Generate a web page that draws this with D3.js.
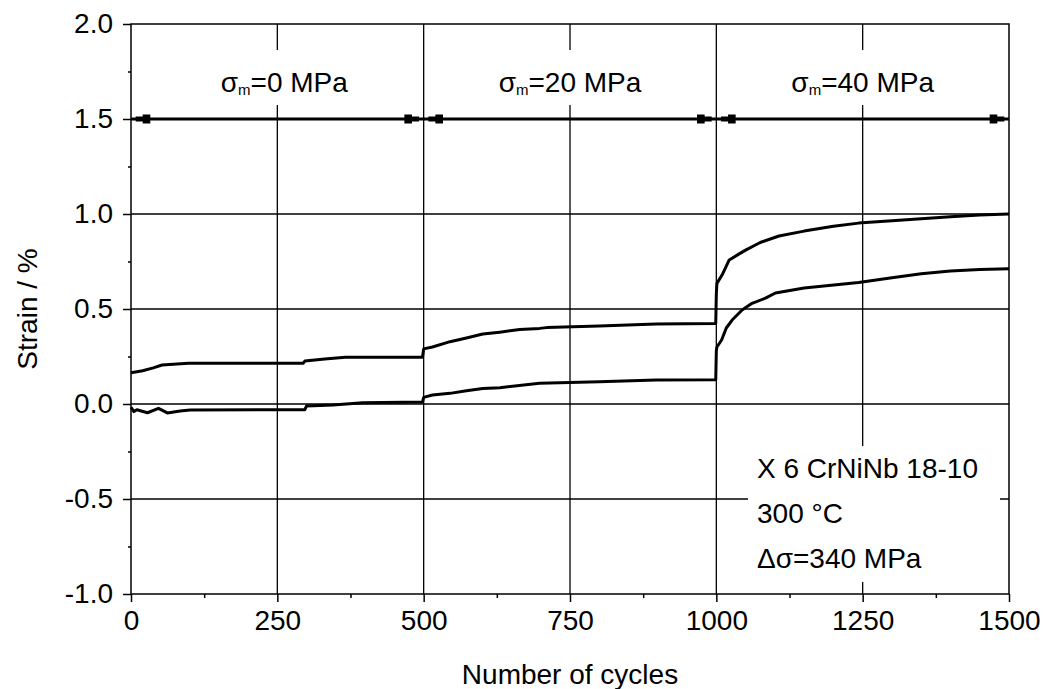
<!DOCTYPE html>
<html>
<head>
<meta charset="utf-8">
<script src="https://cdn.jsdelivr.net/npm/d3@7"></script>
<style>
  body { margin: 0; background: #fff; }
  text { font-family: "Liberation Sans", Arial, sans-serif; fill: #000; }
</style>
</head>
<body>
<div id="chart"></div>
<script>
// Data
const xTicks = [0, 250, 500, 750, 1000, 1250, 1500];
const xMinor = [125, 375, 625, 875, 1125, 1375];
const yTicks = [-1.0, -0.5, 0.0, 0.5, 1.0, 1.5, 2.0];
const yMinor = [-0.75, -0.25, 0.25, 0.75, 1.25, 1.75];

const upperCycles = [0, 10, 20, 38, 53, 98, 294, 297, 331, 366, 498,
  500, 515, 545, 573, 601, 630, 664, 698, 710, 800, 897, 999,
  1000, 1001, 1010, 1022, 1039, 1050, 1075, 1107, 1150, 1200, 1243, 1300, 1400, 1450, 1500];
const upperStrain = [0.165, 0.17, 0.175, 0.19, 0.205, 0.214, 0.214, 0.226, 0.237, 0.246, 0.246,
  0.29, 0.30, 0.328, 0.347, 0.368, 0.378, 0.392, 0.398, 0.402, 0.41, 0.421, 0.424,
  0.58, 0.635, 0.68, 0.758, 0.79, 0.81, 0.85, 0.884, 0.91, 0.935, 0.952, 0.965, 0.985, 0.995, 1.0];

const lowerCycles = [0, 5, 10, 28, 47, 62, 84, 101, 297, 300, 345, 396, 498,
  500, 515, 545, 573, 601, 630, 698, 800, 897, 999,
  1000, 1001, 1009, 1017, 1027, 1044, 1061, 1084, 1101, 1150, 1243, 1300, 1350, 1400, 1450, 1500];
const lowerStrain = [-0.017, -0.04, -0.03, -0.046, -0.023, -0.047, -0.037, -0.032, -0.03, -0.01, -0.005, 0.007, 0.01,
  0.035, 0.047, 0.056, 0.07, 0.082, 0.086, 0.109, 0.117, 0.126, 0.128,
  0.28, 0.30, 0.337, 0.40, 0.442, 0.495, 0.53, 0.557, 0.584, 0.61, 0.64, 0.665, 0.685, 0.70, 0.708, 0.712];

// Load ranges (double arrows at strain 1.5)
const segStart = [0, 500, 1000];
const segEnd = [500, 1000, 1500];
const segLabel = ["0 MPa", "20 MPa", "40 MPa"];
const segLabelX = [262, 750, 1250];
const arrowY = 1.5;

const infoLines = ["X 6 CrNiNb 18-10", "300 \u00B0C", "\u0394\u03C3=340 MPa"];

// Setup SVG
const W = 1045, H = 689;
const svg = d3.select("#chart").append("svg")
  .attr("width", W).attr("height", H);

const x = d3.scaleLinear().domain([0, 1500]).range([131, 1009]);
const y = d3.scaleLinear().domain([-1, 2]).range([594, 24]);

// Grid lines
svg.append("g")
  .selectAll("line")
  .data(xTicks.slice(1, -1))
  .enter().append("line")
  .attr("x1", d => x(d)).attr("x2", d => x(d))
  .attr("y1", y(2)).attr("y2", y(-1))
  .attr("stroke", "#000").attr("stroke-width", 1.3);

svg.append("g")
  .selectAll("line")
  .data(yTicks.slice(1, -1))
  .enter().append("line")
  .attr("x1", x(0)).attr("x2", x(1500))
  .attr("y1", d => y(d)).attr("y2", d => y(d))
  .attr("stroke", "#000").attr("stroke-width", 1.3);

// White boxes behind the texts (they cut the grid)
segLabelX.forEach(c => {
  svg.append("rect")
    .attr("x", x(c) - 75).attr("y", 50)
    .attr("width", 150).attr("height", 55)
    .attr("fill", "#fff");
});
svg.append("rect")
  .attr("x", 748).attr("y", 446)
  .attr("width", 252).attr("height", 136)
  .attr("fill", "#fff");

// Curves
const line = d3.line()
  .x(d => x(d[0]))
  .y(d => y(d[1]));

const upper = upperCycles.map((c, i) => [c, upperStrain[i]]);
const lower = lowerCycles.map((c, i) => [c, lowerStrain[i]]);

[upper, lower].forEach(s => {
  svg.append("path")
    .datum(s)
    .attr("d", line)
    .attr("fill", "none")
    .attr("stroke", "#000")
    .attr("stroke-width", 3)
    .attr("stroke-linejoin", "round");
});

// Arrow line
svg.append("line")
  .attr("x1", x(0)).attr("x2", x(1500))
  .attr("y1", y(arrowY)).attr("y2", y(arrowY))
  .attr("stroke", "#000").attr("stroke-width", 3);

// small blocky arrow heads, like the original
function arrowHead(endCycle, dir) {
  const ay = y(arrowY);
  const p = [
    [x(endCycle + dir * 8), ay - 2.5],
    [x(endCycle + dir * 20), ay - 2.5],
    [x(endCycle + dir * 20), ay - 4.5],
    [x(endCycle + dir * 33), ay - 4.5],
    [x(endCycle + dir * 33), ay + 4.5],
    [x(endCycle + dir * 20), ay + 4.5],
    [x(endCycle + dir * 20), ay + 2.5],
    [x(endCycle + dir * 8), ay + 2.5]
  ];
  svg.append("polygon")
    .attr("points", p.map(q => q.join(",")).join(" "))
    .attr("fill", "#000");
}
segStart.forEach((s, i) => {
  arrowHead(s, 1);
  arrowHead(segEnd[i], -1);
});

// Range labels
segLabel.forEach((t, i) => {
  const tx = svg.append("text")
    .attr("x", x(segLabelX[i])).attr("y", 92)
    .attr("text-anchor", "middle")
    .attr("font-size", 28);
  tx.append("tspan").text("\u03C3");
  tx.append("tspan").attr("font-size", 15).attr("dy", 3).text("m");
  tx.append("tspan").attr("dy", -3).text("=" + t);
});

// Info text
svg.append("g").selectAll("text")
  .data(infoLines)
  .enter().append("text")
  .attr("x", 757)
  .attr("y", (d, i) => 478 + i * 45)
  .attr("font-size", 28)
  .text(d => d);

// Frame
svg.append("rect")
  .attr("x", x(0)).attr("y", y(2))
  .attr("width", x(1500) - x(0)).attr("height", y(-1) - y(2))
  .attr("fill", "none").attr("stroke", "#000").attr("stroke-width", 1.5);

// Axes
const xAxis = svg.append("g")
  .attr("transform", "translate(0," + y(-1) + ")")
  .call(d3.axisBottom(x).tickValues(xTicks).tickSize(8).tickPadding(8)
    .tickFormat(d3.format("d")));
const xMin = svg.append("g")
  .attr("transform", "translate(0," + y(-1) + ")")
  .call(d3.axisBottom(x).tickValues(xMinor).tickSize(4).tickFormat(""));

const yAxis = svg.append("g")
  .attr("transform", "translate(" + x(0) + ",0)")
  .call(d3.axisLeft(y).tickValues(yTicks).tickSize(8).tickPadding(10)
    .tickFormat(d3.format(".1f")));
const yMin = svg.append("g")
  .attr("transform", "translate(" + x(0) + ",0)")
  .call(d3.axisLeft(y).tickValues(yMinor).tickSize(3).tickFormat(""));

[xAxis, xMin, yAxis, yMin].forEach(g => {
  g.select(".domain").remove();
  g.selectAll(".tick line").attr("stroke", "#000").attr("stroke-width", 1.5);
  g.selectAll("text")
    .attr("font-family", "Liberation Sans, Arial, sans-serif")
    .attr("font-size", 28)
    .attr("fill", "#000");
});
yAxis.selectAll(".tick text").text(d => d3.format(".1f")(d).replace("\u2212", "-"));

// Axis titles
svg.append("text")
  .attr("x", (x(0) + x(1500)) / 2).attr("y", 684)
  .attr("text-anchor", "middle")
  .attr("font-size", 28)
  .text("Number of cycles");

svg.append("text")
  .attr("transform", "translate(37," + ((y(2) + y(-1)) / 2) + ") rotate(-90)")
  .attr("text-anchor", "middle")
  .attr("font-size", 28)
  .text("Strain / %");
</script>
</body>
</html>
